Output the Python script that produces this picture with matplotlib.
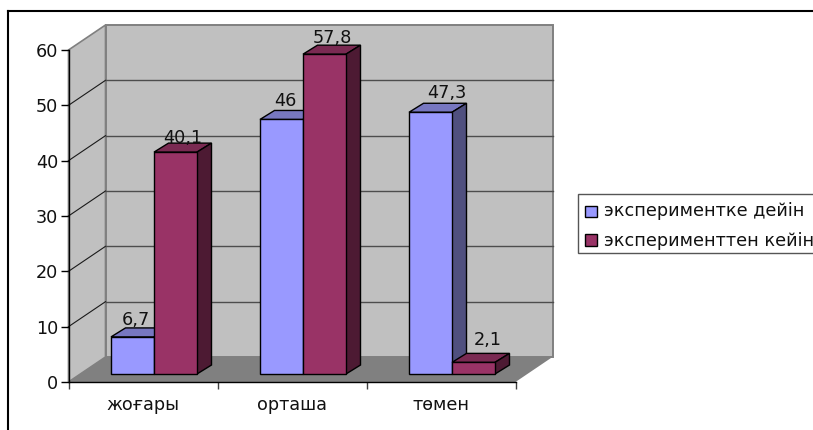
"""
3D-look clustered column chart, before / after experiment.
"""
import matplotlib
matplotlib.use('Agg')
import matplotlib.pyplot as plt
from matplotlib.patches import Polygon, Rectangle
from matplotlib.lines import Line2D

plt.rcParams['font.family'] = ['DejaVu Sans']

categories = ['жоғары', 'орташа', 'төмен']
before = [6.7, 46, 47.3]
after = [40.1, 57.8, 2.1]
yticks = [0, 10, 20, 30, 40, 50, 60]
series_names = ['экспериментке дейін', 'эксперименттен кейін']

W, H = 813, 430
FS = 12.7
BLUE, BLUE_TOP, BLUE_SIDE = '#9999ff', '#7777c0', '#50507f'
RED, RED_TOP, RED_SIDE = '#993366', '#7a2a52', '#4d1a33'
WALL, FLOOR, EDGE = '#c0c0c0', '#808080', '#808080'

fig = plt.figure(figsize=(W/100, H/100), dpi=100)
ax = fig.add_axes([68.5/W, (H-382)/H, 447/W, 332/H])
ax.set_xlim(0, 3)
ax.set_ylim(0, 60)
ax.patch.set_visible(False)

# pixel -> data factors
PX = 3/447
PY = 60/332
DX, DY = 37*PX, 25*PY            # depth of the box
BAR_W = 43*PX
BAR_DX, BAR_DY = 14.5*PX, 9*PY   # depth of one bar
OFF_X, OFF_Y = 11*PX, 8*PY       # bars stand inside the floor

def poly(pts, fc, ec='none', lw=0.0, z=1):
    ax.add_patch(Polygon(pts, closed=True, fc=fc, ec=ec, lw=lw, zorder=z, clip_on=False))

# ── walls and floor ────────────────────────────────────────────────
poly([(0, 0), (0, 60), (DX, 60+DY), (DX, DY)], WALL, EDGE, 1.2)
poly([(DX, DY), (DX, 60+DY), (3+DX, 60+DY), (3+DX, DY)], WALL, EDGE, 1.4)
poly([(0, 0), (3, 0), (3+DX, DY), (DX, DY)], FLOOR, z=1.5)

for t in yticks[1:-1]:
    ax.plot([0, DX], [t, t+DY], color='#1a1a1a', lw=0.8, zorder=2, clip_on=False)
    ax.plot([DX, 3+DX], [t+DY, t+DY], color='#4d4d4d', lw=1.0, zorder=2, clip_on=False)

# ── bars ───────────────────────────────────────────────────────────
def bars(values, shift, fc, top, side, z):
    for i, v in enumerate(values):
        x0 = i + 0.5 + OFF_X + shift
        y0 = OFF_Y + v
        poly([(x0, y0), (x0+BAR_DX, y0+BAR_DY), (x0+BAR_W+BAR_DX, y0+BAR_DY), (x0+BAR_W, y0)],
             top, 'black', 1.0, z)
        poly([(x0+BAR_W, y0), (x0+BAR_W+BAR_DX, y0+BAR_DY),
              (x0+BAR_W+BAR_DX, OFF_Y+BAR_DY), (x0+BAR_W, OFF_Y)], side, 'black', 1.0, z)
    xs = [i + 0.5 + OFF_X + shift for i in range(len(values))]
    ax.bar(xs, values, BAR_W, bottom=OFF_Y, align='edge', color=fc, edgecolor='black',
           linewidth=1.0, zorder=z+0.5, clip_on=False)

bars(before, -BAR_W, BLUE, BLUE_TOP, BLUE_SIDE, 3)
bars(after, 0, RED, RED_TOP, RED_SIDE, 5)

# ── value labels ───────────────────────────────────────────────────
def value_labels(values, shift, nudge_x, lift):
    for i, v in enumerate(values):
        x = i + 0.5 + OFF_X + shift + BAR_W/2 + nudge_x[i]*PX
        ax.text(x, OFF_Y + v + lift[i]*PY, f'{v:g}'.replace('.', ','), ha='center', va='baseline',
                fontsize=FS, color='#111111', zorder=8, clip_on=False)

value_labels(before, -BAR_W, [3.5, 3.5, 16], [12, 13.5, 14.5])
value_labels(after, 0, [7.5, 7.5, 14], [9, 11, 17])

# ── axes ───────────────────────────────────────────────────────────
for s in ['top', 'right']:
    ax.spines[s].set_visible(False)
for s in ['left', 'bottom']:
    ax.spines[s].set_linewidth(1.0)
    ax.spines[s].set_zorder(2.5)
ax.set_yticks(yticks)
ax.tick_params(axis='y', length=6, width=1.0, pad=1.5, labelsize=FS, labelcolor='#111111')
ax.set_xticks([0, 1, 2, 3])
ax.set_xticklabels([])
ax.tick_params(axis='x', length=5, width=1.0, color='#404040')
for i, c in enumerate(categories):
    ax.text(i + 0.5, -23*PY, c, ha='center', va='center', fontsize=FS, color='#111111')

# ── frame and legend, drawn past the right edge like the original ──
def px_rect(x0, y0, x1, y1, **kw):
    fig.add_artist(Rectangle((x0/W, 1-y1/H), (x1-x0)/W, (y1-y0)/H,
                             transform=fig.transFigure, clip_on=False, **kw))

fig.add_artist(Line2D([8/W, 8/W], [0, 1-11/H], color='black', lw=1.5))
fig.add_artist(Line2D([8/W, 1], [1-11/H, 1-11/H], color='black', lw=1.5))

px_rect(577.5, 193.5, 830, 252.5, fc='white', ec='#555555', lw=1.0)
for name, fc, ytop in zip(series_names, [BLUE, RED], [205.5, 234.5]):
    px_rect(585, ytop, 596.5, ytop+11.5, fc=fc, ec='black', lw=1.0)
    fig.text(604/W, 1-(ytop+6)/H, name, ha='left', va='center', fontsize=FS, color='#111111')

fig.savefig('out.png', dpi=100)
